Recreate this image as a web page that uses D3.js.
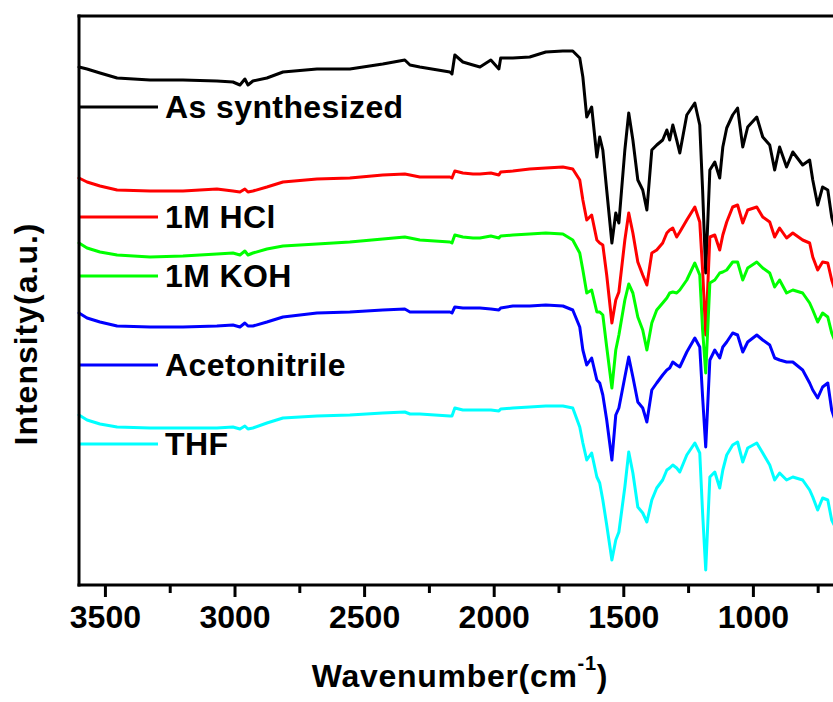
<!DOCTYPE html>
<html>
<head>
<meta charset="utf-8">
<script src="https://cdn.jsdelivr.net/npm/d3@7/dist/d3.min.js"></script>
<style>
  html, body { margin: 0; padding: 0; background: #fff; }
  svg { display: block; }
  text { font-family: "Liberation Sans", Arial, sans-serif; font-weight: bold; fill: #000; }
</style>
</head>
<body>
<svg id="chart" width="833" height="702"></svg>
<script>
// FTIR spectra of the framework after different treatments (offset for clarity)
const wavenumbers = [3600, 3569, 3519, 3453, 3326, 3199, 3068, 3006, 2979, 2960,
  2948, 2929, 2875, 2813, 2682, 2555, 2428, 2343, 2323, 2285,
  2169, 2161, 2150, 2119, 2080, 2053, 2011, 1980, 1973, 1926,
  1861, 1799, 1733, 1695, 1668, 1656, 1641, 1622, 1602, 1591,
  1579, 1564, 1544, 1529, 1517, 1494, 1479, 1463, 1444, 1425,
  1409, 1390, 1371, 1348, 1332, 1321, 1309, 1294, 1282, 1255,
  1224, 1205, 1194, 1182, 1166, 1147, 1128, 1116, 1101, 1078,
  1059, 1039, 1020, 985, 962, 935, 916, 897, 870, 846,
  808, 781, 769, 750, 731, 711, 696, 677];

const asSynthesized = [103.6, 103.2, 102.4, 101.4, 101, 101, 100.8, 100.6, 100, 101.2,
  100, 100.8, 101.4, 102.6, 103.2, 103.2, 104.2, 105, 104, 103.6,
  102.6, 102.2, 106, 104.6, 104, 103.6, 105, 103.2, 105.4, 105.4,
  105.6, 106.6, 106.8, 106.8, 105.4, 101.6, 93.6, 95.6, 85.6, 89.6,
  87, 79, 68.4, 74.4, 72.4, 87, 94.4, 89, 81, 79,
  75, 87, 88, 89, 91, 89, 92, 89, 86.4, 94,
  96.4, 92, 79, 62.4, 83, 84.6, 81.4, 87.6, 91.4, 94,
  95.4, 87.6, 91.6, 93.6, 89.6, 88, 83, 87.6, 83.6, 86.6,
  84, 85, 81, 76, 79.6, 79, 73.6, 70];

const hcl1M = [81.4, 80.6, 79.8, 79, 78.8, 78.8, 79.2, 78.8, 78.6, 79.2,
  78.6, 78.8, 79.6, 80.6, 81.2, 81.4, 82, 82.2, 82, 81.6,
  81.6, 81.4, 82.8, 82.4, 82.2, 82.2, 82.4, 82, 82.6, 82.8,
  83.2, 83.4, 83.6, 83.2, 81, 77, 73, 74, 69, 68.4,
  68, 62, 52.4, 57, 58.6, 69, 74.4, 70.4, 64.6, 62,
  60, 66.4, 67, 68.4, 70.4, 71, 71.4, 69.6, 70.6, 73,
  75.6, 72.6, 63, 50, 69.6, 70, 67, 70, 72.6, 75.6,
  76, 72.4, 75, 75.6, 73.6, 72.6, 69.6, 71.4, 69.4, 70.4,
  69, 68.4, 65.6, 63, 64.6, 64.4, 61, 58];

const koh1M = [68.4, 67.4, 66.6, 66, 65.6, 65.8, 66.2, 66.4, 66, 66.8,
  66, 66.4, 67.2, 67.8, 68.2, 68.6, 69.2, 69.6, 69.4, 69,
  68.6, 68.4, 70, 69.6, 69.4, 69.4, 69.8, 69.4, 69.8, 70,
  70.2, 70.4, 70.2, 69, 66.4, 63, 58.4, 59, 54.6, 54.6,
  54, 47.6, 39.4, 47, 50, 57, 60.2, 58.4, 53.6, 51,
  47, 52.4, 55, 56.4, 57.4, 58.4, 58.6, 58.4, 59, 61,
  64.4, 62, 51, 42.4, 60.4, 61, 62.4, 62.6, 63, 64.6,
  64.6, 61, 63.4, 64.6, 63.4, 62.4, 59.6, 61, 58.4, 59,
  58.4, 56.4, 55, 52.6, 54.4, 53.6, 50.4, 48];

const acetonitrile = [54.4, 53.4, 52.6, 51.8, 51.6, 51.6, 51.8, 52, 51.6, 52.4,
  51.8, 51.8, 52.6, 53.6, 54.4, 54.6, 55, 55.2, 54.6, 54.6,
  54.6, 54.4, 55.6, 55.4, 55.4, 55.4, 55.2, 55, 55.4, 55.8,
  55.8, 56, 55.8, 55, 51.6, 47, 44, 45.4, 41, 40.4,
  38, 33, 25, 34, 35.4, 41.6, 45.6, 41.6, 36.6, 35.4,
  32.6, 39, 40.4, 42, 43, 43.4, 44.6, 44, 43.6, 46.6,
  49.4, 47.6, 37.6, 27.6, 45, 47, 45.4, 47.6, 48.6, 50.4,
  50, 46.6, 48.6, 50, 49, 48, 45.4, 45, 44.6, 44.6,
  43, 40.4, 39, 37.4, 39.6, 40.4, 35, 32];

const thf = [34, 33, 32.2, 31.6, 31.4, 31.4, 31.4, 31.6, 31.2, 31.8,
  31.2, 31.4, 32.4, 33.4, 33.8, 34, 34.4, 34.6, 34.2, 34.2,
  33.8, 33.8, 35.4, 35, 35, 35, 35, 34.8, 35.2, 35.4,
  35.6, 35.8, 35.8, 35.4, 31.6, 28.4, 25, 26.4, 21.6, 20.4,
  17, 12, 5, 9, 10.6, 19.6, 26.6, 22.4, 15.6, 14.4,
  12.6, 17, 19.4, 21, 23, 23.4, 24, 23.4, 22.6, 26,
  28.4, 26.4, 14.4, 3, 21.6, 22.6, 19.4, 23, 26, 28,
  28.6, 24.6, 27.4, 28.4, 26.4, 24, 21, 22.4, 21, 21.6,
  21, 19, 17.6, 15, 17.4, 17, 13, 11];

const seriesNames = ["As synthesized", "1M HCl", "1M KOH", "Acetonitrile", "THF"];
const seriesValues = [asSynthesized, hcl1M, koh1M, acetonitrile, thf];
const majorTicks = [3500, 3000, 2500, 2000, 1500, 1000];
const minorTicks = [3250, 2750, 2250, 1750, 1250, 750];

// ---- layout ----
const colors = ["#000000", "#ff0000", "#00ff00", "#0000ff", "#00ffff"];
const legendRowY = [107, 217, 276, 365, 444];
const plot = { left: 79, right: 908.4, top: 16, bottom: 585 };

const svg = d3.select("#chart");

const x = d3.scaleLinear().domain([3600, 400]).range([plot.left, plot.right]);
const y = d3.scaleLinear().domain([0, 113.8]).range([plot.bottom, plot.top]);

// spectra
const line = d3.line()
  .x(d => x(d[0]))
  .y(d => y(d[1]));

seriesValues.forEach((vals, i) => {
  const pts = wavenumbers.map((w, j) => [w, vals[j]]);
  svg.append("path")
    .datum(pts)
    .attr("d", line)
    .attr("fill", "none")
    .attr("stroke", colors[i])
    .attr("stroke-width", 3)
    .attr("stroke-linejoin", "round")
    .attr("stroke-linecap", "round");
});

// legend
seriesNames.forEach((name, i) => {
  const ly = legendRowY[i];
  svg.append("line")
    .attr("x1", plot.left).attr("x2", 158)
    .attr("y1", ly).attr("y2", ly)
    .attr("stroke", colors[i])
    .attr("stroke-width", 3);
  svg.append("text")
    .attr("x", 165)
    .attr("y", ly + 11)
    .attr("font-size", 32)
    .attr("letter-spacing", "0.4px")
    .text(name);
});

// frame: top line
svg.append("line")
  .attr("x1", plot.left - 1.5).attr("x2", plot.right)
  .attr("y1", plot.top).attr("y2", plot.top)
  .attr("stroke", "#000").attr("stroke-width", 3);

// left axis (no ticks)
svg.append("line")
  .attr("x1", plot.left).attr("x2", plot.left)
  .attr("y1", plot.top - 1.5).attr("y2", plot.bottom + 1.5)
  .attr("stroke", "#000").attr("stroke-width", 3);

// bottom axis: minor ticks
const minorAxis = d3.axisBottom(x)
  .tickValues(minorTicks)
  .tickSizeInner(8)
  .tickSizeOuter(0)
  .tickFormat("");
const gMinor = svg.append("g")
  .attr("transform", `translate(0,${plot.bottom})`)
  .call(minorAxis);
gMinor.select(".domain").remove();
gMinor.selectAll(".tick line").attr("stroke-width", 3);

// bottom axis: major ticks with labels
const majorAxis = d3.axisBottom(x)
  .tickValues(majorTicks)
  .tickSizeInner(12)
  .tickSizeOuter(0)
  .tickPadding(8.3)
  .tickFormat(d3.format("d"));
const gMajor = svg.append("g")
  .attr("transform", `translate(0,${plot.bottom})`)
  .call(majorAxis);
gMajor.select(".domain")
  .attr("stroke-width", 3)
  .attr("d", `M${plot.left - 1.5},0H${plot.right}`);
gMajor.selectAll(".tick line").attr("stroke-width", 3);
gMajor.selectAll(".tick text")
  .attr("font-size", 32)
  .attr("font-family", "'Liberation Sans', Arial, sans-serif")
  .attr("font-weight", "bold")
  .attr("fill", "#000");

// axis titles
const xt = svg.append("text")
  .attr("x", 460)
  .attr("y", 687)
  .attr("text-anchor", "middle")
  .attr("font-size", 32)
  .attr("letter-spacing", "0.7px");
xt.append("tspan").text("Wavenumber(cm");
xt.append("tspan").attr("font-size", 20).attr("dy", -17).text("-1");
xt.append("tspan").attr("dy", 17).text(")");

svg.append("text")
  .attr("transform", "translate(37,334) rotate(-90)")
  .attr("text-anchor", "middle")
  .attr("font-size", 32)
  .attr("letter-spacing", "1px")
  .text("Intensity(a.u.)");
</script>
</body>
</html>
